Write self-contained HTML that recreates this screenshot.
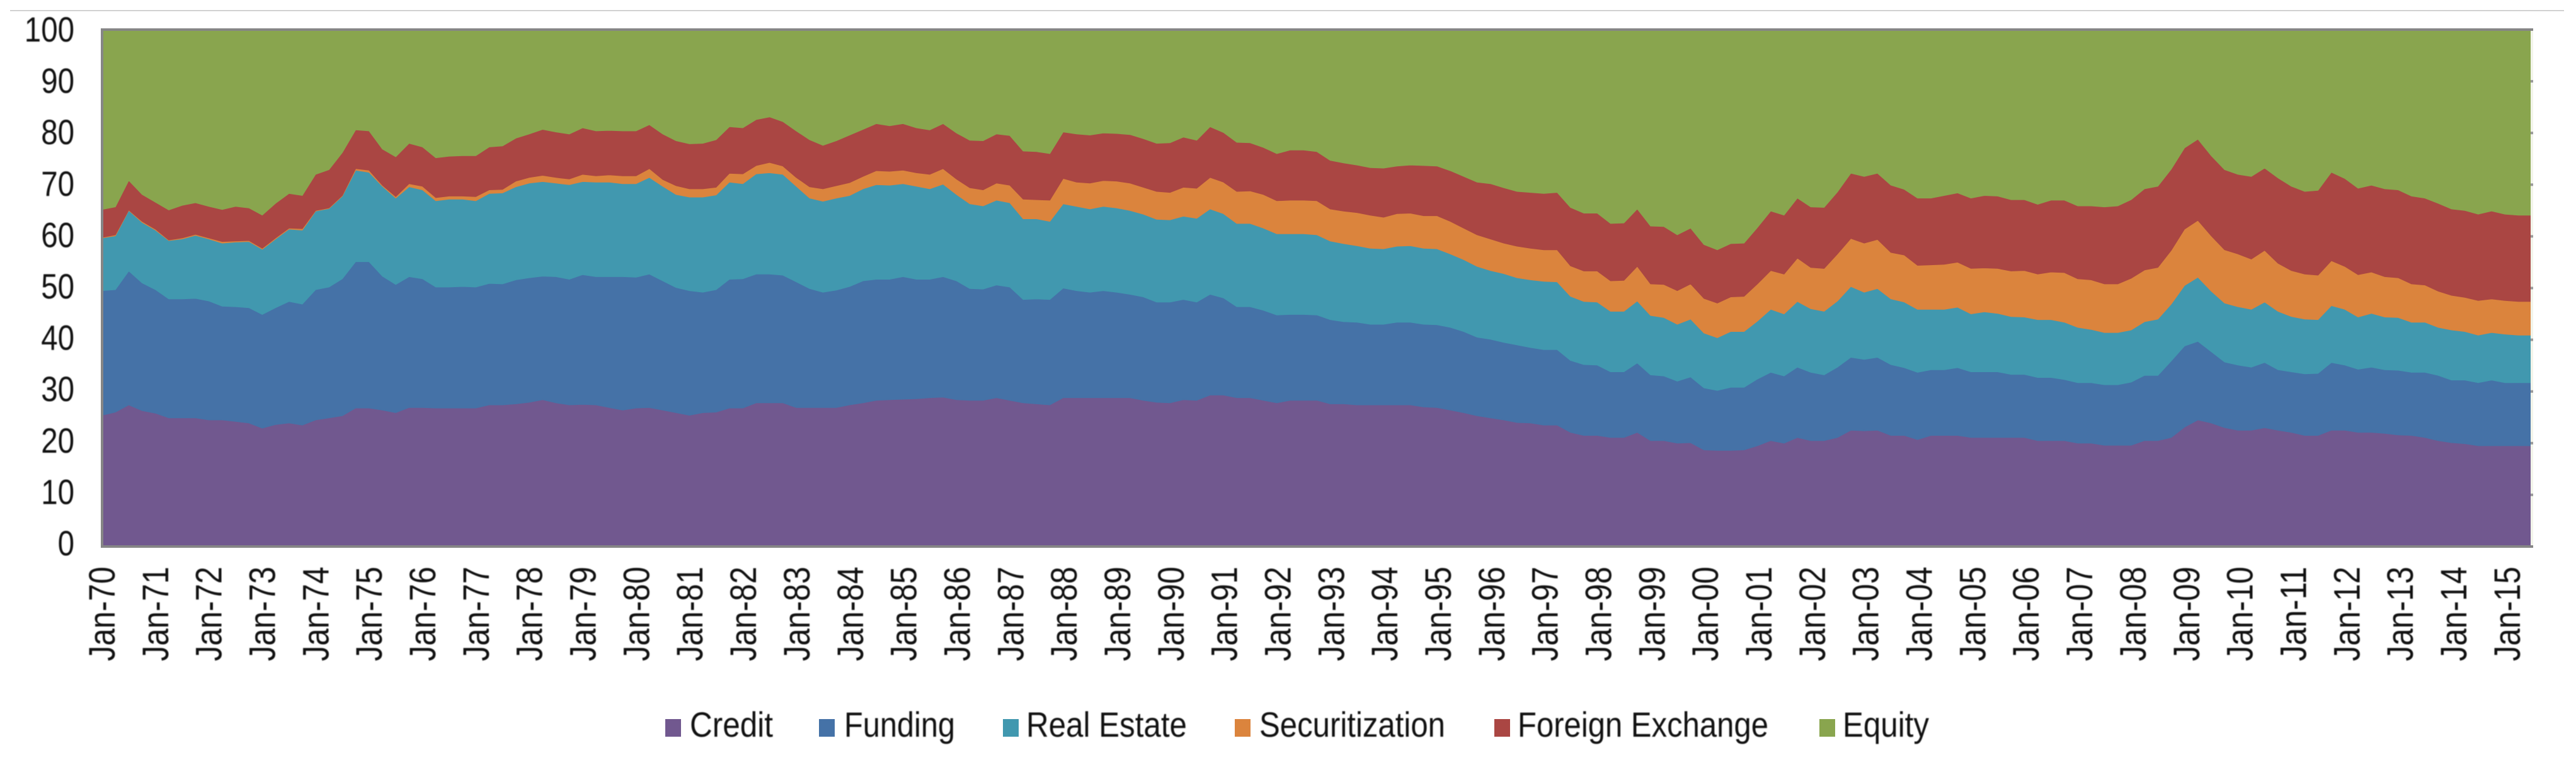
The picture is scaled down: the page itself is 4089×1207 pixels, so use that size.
<!DOCTYPE html>
<html lang="en">
<head>
<meta charset="utf-8">
<title>Stacked area chart of shares by category, 1970-2015</title>
<style>
html,body{margin:0;padding:0;background:#fff;}
body{width:4089px;height:1207px;overflow:hidden;}
svg{display:block;}
text{font-family:"Liberation Sans",Arial,sans-serif;fill:#111;}
.soft{filter:blur(0.7px);}
</style>
</head>
<body>
<svg id="chart" xmlns="http://www.w3.org/2000/svg" width="4089" height="1207" viewBox="0 0 4089 1207">
  <rect x="0" y="0" width="4089" height="1207" fill="#ffffff"/>
  <rect x="16" y="16" width="4054" height="1.6" fill="#c6c6c6"/>
  <g id="areas"></g>
  <rect x="4017" y="47" width="4" height="821" fill="#f2f4ea"/>
  <g id="rightTicks"></g>
  <rect x="160" y="45" width="4" height="825" fill="#868686"/>
  <rect x="160" y="45" width="3861" height="4" fill="#868686"/>
  <rect x="160" y="866" width="3861" height="4" fill="#868686"/>
  <g id="yLabels" class="soft"></g>
  <g id="xLabels" class="soft"></g>
  <g>
    <g>
      <rect x="1056" y="1142" width="25" height="28" fill="#71588F"/>
      <text class="soft" x="1095" y="1170" font-size="56" textLength="132" lengthAdjust="spacingAndGlyphs">Credit</text>
    </g>
    <g>
      <rect x="1300" y="1142" width="25" height="28" fill="#4572A7"/>
      <text class="soft" x="1340" y="1170" font-size="56" textLength="176" lengthAdjust="spacingAndGlyphs">Funding</text>
    </g>
    <g>
      <rect x="1592" y="1142" width="25" height="28" fill="#4198AF"/>
      <text class="soft" x="1629" y="1170" font-size="56" textLength="255" lengthAdjust="spacingAndGlyphs">Real Estate</text>
    </g>
    <g>
      <rect x="1960" y="1142" width="25" height="28" fill="#DB843D"/>
      <text class="soft" x="1999" y="1170" font-size="56" textLength="295" lengthAdjust="spacingAndGlyphs">Securitization</text>
    </g>
    <g>
      <rect x="2372" y="1142" width="25" height="28" fill="#AA4643"/>
      <text class="soft" x="2409" y="1170" font-size="56" textLength="398" lengthAdjust="spacingAndGlyphs">Foreign Exchange</text>
    </g>
    <g>
      <rect x="2888" y="1142" width="25" height="28" fill="#89A54E"/>
      <text class="soft" x="2925" y="1170" font-size="56" textLength="137" lengthAdjust="spacingAndGlyphs">Equity</text>
    </g>
  </g>
</svg>
<script>
const yTicks = [0,10,20,30,40,50,60,70,80,90,100];
const xTickLabels = ["Jan-70","Jan-71","Jan-72","Jan-73","Jan-74","Jan-75","Jan-76","Jan-77","Jan-78","Jan-79","Jan-80","Jan-81","Jan-82","Jan-83","Jan-84","Jan-85","Jan-86","Jan-87","Jan-88","Jan-89","Jan-90","Jan-91","Jan-92","Jan-93","Jan-94","Jan-95","Jan-96","Jan-97","Jan-98","Jan-99","Jan-00","Jan-01","Jan-02","Jan-03","Jan-04","Jan-05","Jan-06","Jan-07","Jan-08","Jan-09","Jan-10","Jan-11","Jan-12","Jan-13","Jan-14","Jan-15"];
const seriesNames = ["credit","funding","real-estate","securitization","foreign-exchange","equity"];
const seriesColors = ["#71588F","#4572A7","#4198AF","#DB843D","#AA4643","#89A54E"];

const credit = [
25.4,26.0,27.4,26.3,25.8,24.9,24.9,24.9,24.5,24.5,
24.2,23.9,22.9,23.6,23.9,23.5,24.5,24.9,25.3,26.8,
26.8,26.4,25.9,26.9,26.9,26.8,26.8,26.8,26.8,27.4,
27.4,27.6,27.9,28.4,27.8,27.4,27.5,27.4,26.9,26.4,
26.8,26.9,26.4,25.9,25.4,25.9,26.0,26.8,26.8,27.8,
27.8,27.8,26.9,26.9,26.9,26.9,27.4,27.8,28.3,28.4,
28.5,28.6,28.8,28.9,28.4,28.3,28.3,28.8,28.3,27.8,
27.6,27.4,28.8,28.8,28.8,28.8,28.8,28.8,28.3,27.9,
27.8,28.4,28.3,29.3,29.3,28.8,28.8,28.3,27.8,28.3,
28.3,28.3,27.6,27.6,27.4,27.4,27.4,27.4,27.4,27.0,
26.9,26.4,25.9,25.3,24.9,24.5,24.0,23.9,23.5,23.5,
22.1,21.5,21.5,21.1,21.1,22.1,20.5,20.5,20.0,20.1,
18.7,18.6,18.6,18.7,19.5,20.5,20.0,21.1,20.5,20.5,
21.1,22.5,22.4,22.5,21.5,21.5,20.7,21.5,21.5,21.5,
21.1,21.1,21.1,21.1,21.1,20.5,20.5,20.5,20.0,20.0,
19.6,19.6,19.6,20.5,20.5,21.1,23.1,24.5,23.9,23.0,
22.5,22.5,23.0,22.5,22.1,21.5,21.5,22.5,22.5,22.1,
22.1,21.9,21.6,21.5,21.1,20.5,20.1,19.9,19.5,19.5,
19.5,19.5,19.5];

const funding = [
24.1,23.7,25.9,24.7,23.9,23.0,23.0,23.1,23.0,22.0,
22.2,22.3,22.0,22.6,23.5,23.4,25.2,25.3,26.5,28.3,
28.3,25.9,24.8,25.3,24.9,23.4,23.4,23.5,23.4,23.5,
23.4,24.0,24.1,23.9,24.4,24.3,25.1,24.8,25.3,25.8,
25.3,25.8,25.0,24.2,24.1,23.3,23.7,24.9,25.0,24.9,
24.9,24.7,24.3,23.0,22.3,22.7,22.9,23.6,23.4,23.3,
23.7,23.1,22.9,23.3,23.0,21.6,21.5,21.8,21.9,20.0,
20.3,20.4,21.2,20.7,20.4,20.7,20.4,20.0,20.0,19.4,
19.5,19.4,19.0,19.5,18.8,17.6,17.6,17.4,17.0,16.6,
16.6,16.5,16.3,15.9,16.0,15.6,15.6,16.0,16.0,16.0,
16.0,16.0,15.7,15.2,15.2,15.0,15.0,14.6,14.6,14.6,
13.9,13.7,13.6,12.7,12.7,13.4,12.7,12.5,12.0,12.7,
12.0,11.6,12.2,12.1,12.9,13.2,13.0,13.6,13.2,12.7,
13.6,14.1,13.8,14.1,13.7,13.1,13.0,12.7,12.7,13.1,
12.7,12.7,12.7,12.2,12.2,12.2,12.2,11.8,11.7,11.7,
11.7,11.7,12.2,12.6,12.6,14.8,15.7,15.2,13.8,12.7,
12.6,12.2,12.6,11.7,11.7,11.9,12.0,13.1,12.6,12.2,
12.6,12.3,12.5,12.2,12.6,12.6,12.1,12.3,12.2,12.7,
12.2,12.2,12.2];

const realEstate = [
10.2,10.4,11.7,11.7,11.5,11.3,11.6,12.2,12.0,12.2,
12.5,12.8,12.6,13.3,14.0,14.3,15.2,15.2,16.0,17.7,
17.3,17.4,16.7,17.4,17.2,16.7,17.0,16.9,16.7,17.4,
17.6,18.0,18.3,18.3,18.1,18.3,18.0,18.3,18.3,18.0,
18.1,18.7,18.3,18.0,18.1,18.4,18.3,18.8,18.4,19.4,
19.6,19.5,18.5,17.5,17.6,17.8,17.6,17.8,18.3,18.2,
18.0,18.0,17.5,17.9,16.7,16.4,16.1,16.4,16.3,15.6,
15.5,15.1,16.3,16.3,16.1,16.3,16.3,16.2,16.0,16.0,
15.9,16.1,16.2,16.5,16.3,16.1,16.1,15.9,15.7,15.6,
15.6,15.5,15.2,15.1,14.8,14.7,14.6,14.7,14.8,14.7,
14.7,14.2,13.9,13.7,13.3,13.3,13.0,13.1,13.2,13.1,
12.4,12.2,12.2,11.7,11.7,12.0,11.5,11.3,11.0,11.2,
10.6,10.2,10.8,10.8,11.2,12.2,12.0,12.7,12.3,12.3,
12.8,13.7,13.0,13.3,12.7,12.7,12.2,11.7,11.7,11.7,
11.2,11.6,11.3,11.2,11.1,11.2,11.2,11.1,10.7,10.3,
10.1,10.1,10.1,10.4,10.9,11.0,11.7,12.4,11.7,11.4,
11.3,11.2,11.7,11.3,10.7,10.6,10.4,11.0,10.8,10.1,
10.4,10.2,10.2,9.7,9.7,9.3,9.7,9.4,9.2,9.2,
9.4,9.2,9.2];

const securitization = [
0.1,0.2,0.1,0.2,0.2,0.1,0.2,0.2,0.2,0.3,
0.2,0.2,0.2,0.2,0.2,0.3,0.1,0.1,0.1,0.3,
0.4,0.2,0.3,0.6,0.7,0.6,0.6,0.6,0.8,0.7,
0.7,1.1,1.1,1.2,1.1,1.1,1.4,1.2,1.4,1.5,
1.5,1.7,1.3,1.7,1.6,1.6,1.5,1.7,1.9,1.6,
2.0,1.6,1.7,2.2,2.4,2.4,2.5,2.4,2.7,2.7,
2.6,2.6,2.8,3.0,3.0,3.1,3.1,3.3,3.4,3.8,
3.7,4.1,4.9,4.7,5.0,5.0,5.2,5.3,5.2,5.4,
5.3,5.6,5.8,6.1,6.1,6.2,6.3,6.5,6.4,6.5,
6.5,6.6,6.2,6.3,6.4,6.4,6.1,6.3,6.3,6.3,
6.4,6.3,6.1,6.1,6.1,5.9,6.1,6.1,6.1,6.2,
5.9,5.9,6.0,5.9,6.0,6.7,6.1,6.4,6.5,6.8,
6.7,6.7,6.7,6.8,7.2,7.5,7.7,8.4,8.0,8.3,
9.1,9.3,9.5,9.5,9.0,9.1,8.5,8.6,8.7,8.7,
8.8,8.5,8.7,8.8,9.0,8.8,9.2,9.6,9.4,9.6,
9.4,9.4,10.0,10.0,10.0,10.4,10.9,11.0,10.7,10.3,
10.2,9.7,10.0,9.3,8.9,8.7,8.6,8.7,8.3,8.2,
8.0,7.8,7.7,7.4,7.2,7.0,6.7,6.6,6.7,6.5,
6.5,6.5,6.5];

const foreignExchange = [
5.4,5.4,5.7,5.2,5.2,5.8,6.3,6.1,6.1,6.2,
6.7,6.3,6.4,6.7,6.7,6.4,7.0,7.4,8.3,7.5,
7.6,7.0,7.7,7.8,7.6,7.7,7.7,7.8,7.9,8.3,
8.4,8.3,8.4,8.9,8.8,8.7,9.0,8.7,8.6,8.7,
8.7,8.5,8.8,8.7,8.7,8.8,9.2,9.0,8.9,8.9,
8.8,8.6,9.0,9.1,8.4,8.7,9.2,9.1,9.1,8.8,
9.0,8.7,8.6,8.7,8.9,9.2,9.5,9.5,9.6,9.3,
9.3,9.0,9.0,9.3,9.3,9.2,9.2,9.4,9.4,9.3,
9.6,9.7,9.3,9.8,9.6,9.5,9.3,9.1,9.1,9.7,
9.7,9.5,9.4,9.3,9.2,9.2,9.5,9.2,9.3,9.7,
9.6,9.8,10.0,10.2,10.7,10.7,10.6,10.8,10.9,11.1,
11.3,11.2,11.2,11.1,11.1,11.1,11.2,11.2,10.8,10.8,
10.4,10.3,10.3,10.3,10.9,11.5,11.4,11.6,11.7,11.8,
12.0,12.6,12.9,12.8,13.0,12.7,13.0,12.9,13.3,13.4,
13.6,14.0,14.0,13.8,13.7,13.5,13.9,14.0,14.1,14.3,
14.9,15.1,15.2,15.7,15.7,15.7,15.7,15.7,15.5,15.5,
15.4,16.0,15.9,16.5,16.3,16.0,16.4,17.1,17.0,16.7,
16.8,17.0,17.0,17.0,16.8,17.0,16.7,16.8,16.7,17.0,
16.7,16.7,16.7];

const equity = [
34.7,34.2,29.2,31.9,33.4,34.8,34.0,33.5,34.2,34.8,
34.2,34.5,35.9,33.6,31.6,32.2,28.0,27.1,23.8,19.3,
19.6,23.2,24.5,21.9,22.7,24.8,24.5,24.4,24.4,22.7,
22.5,21.0,20.2,19.2,19.8,20.2,19.0,19.6,19.4,19.6,
19.5,18.4,20.2,21.5,22.1,22.0,21.3,18.7,19.2,17.4,
17.0,17.9,19.6,21.2,22.4,21.4,20.5,19.2,18.2,18.6,
18.2,19.0,19.3,18.2,19.9,21.4,21.5,20.2,20.5,23.4,
23.6,23.9,19.8,20.3,20.4,19.9,20.0,20.3,21.1,21.9,
21.9,20.9,21.4,18.8,19.9,21.9,21.9,22.7,23.9,23.4,
23.4,23.6,25.2,25.9,26.2,26.8,26.9,26.4,26.2,26.4,
26.4,27.3,28.4,29.5,29.9,30.7,31.3,31.5,31.7,31.5,
34.5,35.5,35.5,37.6,37.5,34.7,37.9,38.2,39.7,38.4,
41.6,42.6,41.4,41.3,38.4,35.1,36.0,32.6,34.2,34.3,
31.4,27.7,28.4,27.7,30.0,30.8,32.6,32.6,32.1,31.5,
32.7,32.2,32.3,32.9,32.9,33.8,32.9,33.1,34.0,34.0,
34.2,34.0,32.9,30.8,30.3,27.1,22.9,21.3,24.4,27.0,
27.9,28.5,26.9,28.6,30.3,31.3,31.0,27.6,28.8,30.8,
30.0,30.8,30.9,32.3,32.6,33.6,34.8,35.0,35.6,35.1,
35.5,35.8,35.9];

const stackedSeries = [credit, funding, realEstate, securitization, foreignExchange, equity];
const SVG_NS = "http://www.w3.org/2000/svg";

function xScale(i) { return 162 + i * 21.19; }
function yScale(v) { return 868 - v * 8.21; }
function xLabelCenter(k) { return 161 + k * 84.84; }
function yLabelCenter(v) { return 46 + (100 - v) * 8.16; }

const pointCount = credit.length;
const baseline = new Array(pointCount).fill(0);
const areasGroup = document.getElementById("areas");
const running = baseline.slice();

stackedSeries.forEach(function (values, s) {
  const lower = running.slice();
  const upper = lower.map(function (b, i) { return Math.min(100, b + values[i]); });
  let d = "";
  upper.forEach(function (v, i) {
    d += (i === 0 ? "M" : "L") + xScale(i).toFixed(1) + " " + yScale(v).toFixed(1);
  });
  for (let i = pointCount - 1; i >= 0; i--) {
    d += "L" + xScale(i).toFixed(1) + " " + yScale(lower[i]).toFixed(1);
  }
  d += "Z";
  const path = document.createElementNS(SVG_NS, "path");
  path.setAttribute("d", d);
  path.setAttribute("fill", seriesColors[s]);
  path.setAttribute("stroke", seriesColors[s]);
  path.setAttribute("stroke-width", "1");
  
  
  areasGroup.appendChild(path);
  upper.forEach(function (v, i) { running[i] = v; });
});

const rightTicksGroup = document.getElementById("rightTicks");
yTicks.forEach(function (v) {
  const tick = document.createElementNS(SVG_NS, "rect");
  tick.setAttribute("x", "4017");
  tick.setAttribute("y", (yScale(v) - 2).toFixed(1));
  tick.setAttribute("width", "4");
  tick.setAttribute("height", "4");
  tick.setAttribute("fill", "#9a9a9a");
  
  
  rightTicksGroup.appendChild(tick);
});

const yLabelsGroup = document.getElementById("yLabels");
yTicks.forEach(function (v) {
  const label = String(v);
  const len = label.length * 26.4;
  const t = document.createElementNS(SVG_NS, "text");
  t.setAttribute("x", (118 - len).toFixed(1));
  t.setAttribute("y", (yLabelCenter(v) + 20).toFixed(1));
  t.setAttribute("font-size", "56");
  t.setAttribute("textLength", len.toFixed(1));
  t.setAttribute("lengthAdjust", "spacingAndGlyphs");
  t.textContent = label;
  
  
  yLabelsGroup.appendChild(t);
});

const xLabelsGroup = document.getElementById("xLabels");
xTickLabels.forEach(function (label, k) {
  const t = document.createElementNS(SVG_NS, "text");
  t.setAttribute("transform", "translate(" + (xLabelCenter(k) + 21).toFixed(1) + " 1050) rotate(-90)");
  t.setAttribute("x", "0");
  t.setAttribute("y", "0");
  t.setAttribute("font-size", "58");
  t.setAttribute("textLength", "150");
  t.setAttribute("lengthAdjust", "spacingAndGlyphs");
  t.textContent = label;
  
  
  xLabelsGroup.appendChild(t);
});
</script>
</body>
</html>
